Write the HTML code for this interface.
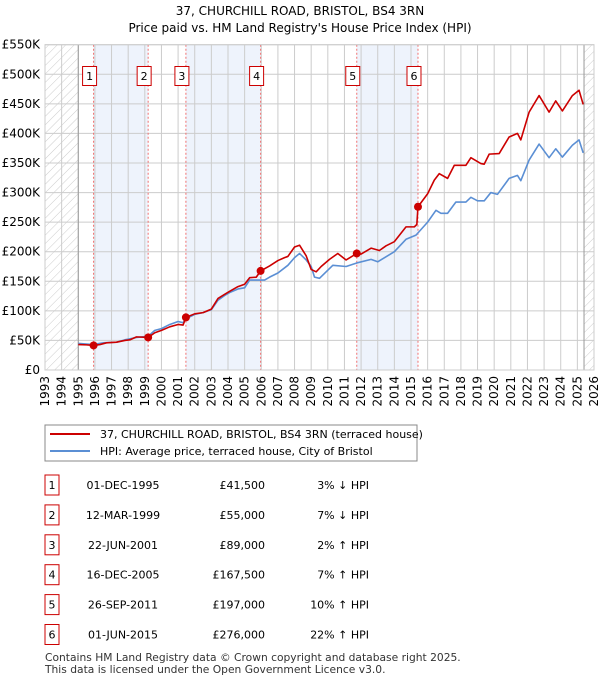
<!DOCTYPE html>
<html><head><meta charset="utf-8"><style>
body{margin:0;background:#fff;width:600px;height:680px;overflow:hidden;font-family:"DejaVu Sans","Liberation Sans",sans-serif;}
svg text{font-family:"DejaVu Sans","Liberation Sans",sans-serif;}
</style></head><body>
<svg id="chart" width="600" height="680" xmlns="http://www.w3.org/2000/svg">
<defs><pattern id="hatch" width="6" height="6" patternUnits="userSpaceOnUse" patternTransform="rotate(45)"><line x1="0" y1="0" x2="0" y2="6" stroke="#ccc" stroke-width="1"/></pattern></defs>
<text x="300" y="15" text-anchor="middle" font-size="12">37, CHURCHILL ROAD, BRISTOL, BS4 3RN</text>
<text x="300" y="32" text-anchor="middle" font-size="12">Price paid vs. HM Land Registry's House Price Index (HPI)</text>
<g id="plot"></g>
<g>
<rect x="45" y="425" width="372" height="36" fill="#fff" stroke="#888"/>
<line x1="50" y1="434" x2="90" y2="434" stroke="#cc0000" stroke-width="2"/>
<text x="100" y="438" font-size="11">37, CHURCHILL ROAD, BRISTOL, BS4 3RN (terraced house)</text>
<line x1="50" y1="451" x2="90" y2="451" stroke="#5b8fd4" stroke-width="2"/>
<text x="100" y="455" font-size="11">HPI: Average price, terraced house, City of Bristol</text>
</g>
<g id="table"></g>
<text x="45" y="661" font-size="10.7" fill="#333">Contains HM Land Registry data © Crown copyright and database right 2025.</text>
<text x="45" y="673" font-size="10.7" fill="#333">This data is licensed under the Open Government Licence v3.0.</text>
</svg>
<script>
const yTicks=[0,50,100,150,200,250,300,350,400,450,500,550];
const yTickLabels=["£0","£50K","£100K","£150K","£200K","£250K","£300K","£350K","£400K","£450K","£500K","£550K"];
const xYears=[1993,1994,1995,1996,1997,1998,1999,2000,2001,2002,2003,2004,2005,2006,2007,2008,2009,2010,2011,2012,2013,2014,2015,2016,2017,2018,2019,2020,2021,2022,2023,2024,2025,2026];
const saleDates=[1995.92,1999.2,2001.47,2005.96,2011.74,2015.42];
const salePrices=[41.5,55,89,167.5,197,276];
const saleLabels=["1","2","3","4","5","6"];
const saleDateText=["01-DEC-1995","12-MAR-1999","22-JUN-2001","16-DEC-2005","26-SEP-2011","01-JUN-2015"];
const salePriceText=["£41,500","£55,000","£89,000","£167,500","£197,000","£276,000"];
const saleHpiText=["3% ↓ HPI","7% ↓ HPI","2% ↑ HPI","7% ↑ HPI","10% ↑ HPI","22% ↑ HPI"];
const redYears=[1995.0,1995.5,1995.92,1996.3,1996.7,1997.3,1997.8,1998.1,1998.5,1999.2,1999.6,2000.0,2000.5,2001.0,2001.3,2001.47,2002.0,2002.5,2003.0,2003.4,2003.8,2004.1,2004.6,2005.0,2005.3,2005.7,2005.96,2006.5,2007.0,2007.4,2007.6,2008.0,2008.3,2008.7,2009.0,2009.3,2009.6,2010.1,2010.6,2011.1,2011.74,2012.0,2012.6,2013.1,2013.5,2014.0,2014.7,2015.2,2015.35,2015.42,2016.0,2016.4,2016.7,2017.2,2017.6,2018.3,2018.6,2019.2,2019.4,2019.7,2020.3,2020.9,2021.4,2021.6,2022.1,2022.7,2023.3,2023.7,2024.1,2024.7,2025.1,2025.35];
const redVals=[43,42.5,41.5,43,46,47,50,51,56,55,63,67,73,77,76,89,95,97,103,121,128,133,141,145,156,157,167.5,176,185,190,192,208,211,193,170,166,175,187,197,186,197,196,206,202,210,217,242,242,246,276,298,321,332,324,346,346,359,349,348,365,366,394,400,389,436,464,436,455,438,464,473,449];
const blueYears=[1995.0,1995.92,1996.5,1997.3,1997.8,1998.5,1999.2,1999.6,2000.0,2000.5,2001.0,2001.3,2001.5,2002.0,2002.5,2003.0,2003.4,2003.8,2004.1,2004.6,2005.0,2005.3,2006.2,2006.5,2007.0,2007.6,2008.0,2008.3,2008.7,2009.0,2009.2,2009.5,2010.3,2011.1,2011.74,2012.6,2013.0,2014.0,2014.7,2015.3,2016.0,2016.5,2016.8,2017.2,2017.7,2018.3,2018.6,2019.0,2019.4,2019.8,2020.2,2020.9,2021.4,2021.6,2022.1,2022.7,2023.3,2023.7,2024.1,2024.7,2025.1,2025.35];
const blueVals=[45,43,46,47,51,55,57,67,70,77,82,80,87,94,97,102,118,126,131,137,139,152,152,157,164,177,190,197,186,175,157,155,177,175,181,187,183,200,221,228,250,270,265,265,284,284,292,286,286,300,297,324,329,320,355,382,359,374,360,380,389,367];

const L=45,R=594,T=44.7,B=370;
const xs=y=>L+(y-1993)*(R-L)/33;
const ys=v=>B-v*(B-T)/550;
const NS="http://www.w3.org/2000/svg";
const plot=document.getElementById('plot');
function mk(tag,attrs,parent){const e=document.createElementNS(NS,tag);for(const k in attrs)e.setAttribute(k,attrs[k]);(parent||plot).appendChild(e);return e;}
for(let i=0;i<saleDates.length;i+=2){
 const b=mk('rect',{x:xs(saleDates[i]),y:T,width:xs(saleDates[i+1])-xs(saleDates[i]),height:B-T,fill:'#eef3fc'});
 
 
}
const h1=mk('rect',{x:L,y:T,width:xs(1995)-L,height:B-T,fill:'url(#hatch)'});


const h2=mk('rect',{x:xs(2025.4),y:T,width:R-xs(2025.4),height:B-T,fill:'url(#hatch)'});


yTicks.forEach((t,i)=>{
 const g=mk('line',{x1:L,x2:R,y1:ys(t),y2:ys(t),stroke:'#ccc','stroke-width':1});
 
 
 const tx=mk('text',{x:40,y:ys(t)+4,'text-anchor':'end','font-size':12});
 tx.textContent=yTickLabels[i];
 
 
});
xYears.forEach(yr=>{
 const g=mk('line',{x1:xs(yr),x2:xs(yr),y1:T,y2:B,stroke:'#ccc','stroke-width':1});
 
 
 const tx=mk('text',{x:0,y:0,'text-anchor':'end','font-size':12,transform:`translate(${xs(yr)+4},376) rotate(-90)`});
 tx.textContent=yr;
 
 
});
mk('line',{x1:xs(1995),x2:xs(1995),y1:T,y2:B,stroke:'#999'});
mk('line',{x1:xs(2025.4),x2:xs(2025.4),y1:T,y2:B,stroke:'#999'});
saleDates.forEach((d,i)=>{
 const l=mk('line',{x1:xs(d),x2:xs(d),y1:T,y2:B,stroke:'#f07070','stroke-dasharray':'2,2'});
 
 
 const r=mk('rect',{x:xs(d)-11,y:66.5,width:14,height:19,fill:'#fff',stroke:'#cc0000'});
 
 
 const t=mk('text',{x:xs(d)-4,y:80,'text-anchor':'middle','font-size':11});
 t.textContent=saleLabels[i];
 
 
});
function line(xa,va,color,name){
 const p=mk('polyline',{points:xa.map((x,i)=>xs(x)+','+ys(va[i])).join(' '),fill:'none',stroke:color,'stroke-width':1.6,'stroke-linejoin':'round'});
 
 
}
line(blueYears,blueVals,'#5b8fd4','hpi-line');
line(redYears,redVals,'#cc0000','price-paid-line');
saleDates.forEach((d,i)=>{
 const c=mk('circle',{cx:xs(d),cy:ys(salePrices[i]),r:4,fill:'#cc0000'});
 
 
});
mk('rect',{x:L,y:T,width:R-L,height:B-T,fill:'none',stroke:'#ccc'});
const tb=document.getElementById('table');
saleDates.forEach((d,i)=>{
 const y=485+i*29.9;
 const r=mk('rect',{x:45,y:y-10,width:14,height:20,fill:'#fff',stroke:'#cc0000'},tb);
 
 
 const cells=[[52,'middle',saleLabels[i],'table-row-number'],[123,'middle',saleDateText[i],'table-row-date'],[265,'end',salePriceText[i],'table-row-price'],[369,'end',saleHpiText[i],'table-row-hpi-change']];
 cells.forEach(c=>{
  const t=mk('text',{x:c[0],y:y+4,'text-anchor':c[1],'font-size':11},tb);
  t.textContent=c[2];
  
  
 });
});
</script>
</body></html>
